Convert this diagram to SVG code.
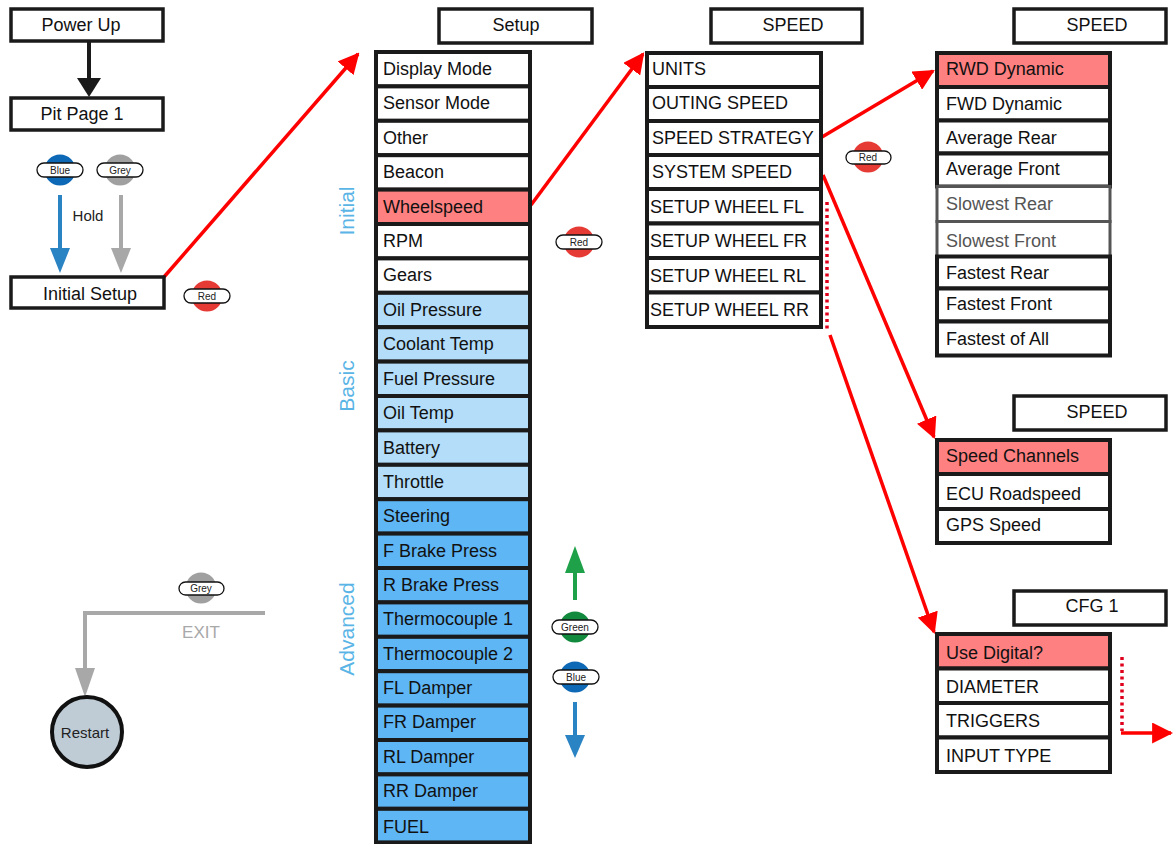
<svg xmlns="http://www.w3.org/2000/svg" width="1173" height="844" viewBox="0 0 1173 844">
<defs>
<marker id="ah-red" viewBox="0 0 10 10" refX="9" refY="5" markerWidth="6" markerHeight="6" markerUnits="strokeWidth" orient="auto"><path d="M0,0 L10,5 L0,10 z" fill="#ff0000"/></marker>
</defs>
<style>
text{font-family:"Liberation Sans",Arial,sans-serif;}
.box{fill:#fff;stroke:#1a1a1a;stroke-width:3.5;}
.row{stroke:#1a1a1a;stroke-width:4;}
.w{fill:#fff}.r{fill:#ff8080}.lb{fill:#b3ddf9}.mb{fill:#5fb6f5}
.t{font-size:18px;fill:#111;}
.tc{font-size:18px;fill:#111;text-anchor:middle;}
.side{font-size:21px;fill:#5ab5e6;text-anchor:middle;}
.pill{fill:#fff;stroke:#111;stroke-width:1.3;}
.pt{font-size:10px;fill:#222;text-anchor:middle;}
.red{stroke:#ff0000;stroke-width:3.5;fill:none;}
.dot{stroke:#e0001b;stroke-width:3.5;fill:none;stroke-dasharray:3,3.5;}
</style>

<g id="connectors">
<line x1="89" y1="41" x2="89" y2="80" stroke="#1a1a1a" stroke-width="4"/>
<path d="M77,78 L101,78 L89,97 z" fill="#1a1a1a"/>
<line x1="60" y1="195" x2="60" y2="250" stroke="#2a84c4" stroke-width="4"/>
<path d="M50,248 L70,248 L60,273 z" fill="#2a84c4"/>
<line x1="121" y1="195" x2="121" y2="250" stroke="#a8a8a8" stroke-width="4"/>
<path d="M111,248 L131,248 L121,273 z" fill="#a8a8a8"/>
<path d="M265,613 L85,613 L85,670" stroke="#a8a8a8" stroke-width="4" fill="none"/>
<path d="M75,668 L95,668 L85,697 z" fill="#a8a8a8"/>
<line x1="575" y1="600" x2="575" y2="570" stroke="#1fa14a" stroke-width="4"/>
<path d="M565,573 L585,573 L575,546 z" fill="#1fa14a"/>
<line x1="575" y1="702" x2="575" y2="737" stroke="#2a84c4" stroke-width="4"/>
<path d="M565,735 L585,735 L575,758 z" fill="#2a84c4"/>
<line class="red" x1="164" y1="277" x2="358" y2="54" marker-end="url(#ah-red)"/>
<line class="red" x1="531" y1="205" x2="643" y2="54" marker-end="url(#ah-red)"/>
<line class="red" x1="822" y1="137" x2="933" y2="71" marker-end="url(#ah-red)"/>
<line class="red" x1="823" y1="175" x2="934" y2="437" marker-end="url(#ah-red)"/>
<line class="dot" x1="827" y1="202" x2="827" y2="330"/>
<line class="red" x1="830" y1="335" x2="934" y2="632" marker-end="url(#ah-red)"/>
<line class="dot" x1="1122" y1="657" x2="1122" y2="731"/>
<line class="red" x1="1121" y1="733" x2="1171" y2="733" marker-end="url(#ah-red)"/>
</g>

<g id="power-up"><rect class="box" x="11" y="9" width="152" height="32"/><text class="tc" x="81" y="31">Power Up</text></g>
<g id="pit-page-1"><rect class="box" x="11" y="98" width="152" height="32"/><text class="tc" x="82" y="120">Pit Page 1</text></g>
<g id="initial-setup"><rect class="box" x="11" y="277" width="153" height="31"/><text class="tc" x="90" y="300">Initial Setup</text></g>
<text x="88" y="221" style="font-size:15px;fill:#222;text-anchor:middle">Hold</text>

<g id="btn-blue-1"><circle cx="60" cy="170" r="15.5" fill="#0d68b5"/><rect class="pill" x="37" y="163" width="46" height="14" rx="7"/><text class="pt" x="60" y="174">Blue</text></g>
<g id="btn-grey-1"><circle cx="120" cy="170" r="15.5" fill="#a0a0a0"/><rect class="pill" x="97" y="163" width="46" height="14" rx="7"/><text class="pt" x="120" y="174">Grey</text></g>
<g id="btn-red-1"><circle cx="207" cy="296" r="15.5" fill="#e63a35"/><rect class="pill" x="184" y="289" width="46" height="14" rx="7"/><text class="pt" x="207" y="300">Red</text></g>
<g id="btn-grey-2"><circle cx="201" cy="588" r="15.5" fill="#a0a0a0"/><rect class="pill" x="179" y="582" width="45" height="13" rx="6.5"/><text class="pt" x="201" y="592">Grey</text></g>
<text x="201" y="638" style="font-size:17px;fill:#a8a8a8;text-anchor:middle">EXIT</text>
<g id="restart"><circle cx="87" cy="732" r="35" fill="#bfccd6" stroke="#111" stroke-width="4"/><text x="85" y="738" style="font-size:15px;fill:#222;text-anchor:middle">Restart</text></g>

<g id="btn-red-2"><circle cx="579" cy="242" r="15.5" fill="#e63a35"/><rect class="pill" x="556" y="235" width="46" height="14" rx="7"/><text class="pt" x="579" y="246">Red</text></g>
<g id="btn-green"><circle cx="575" cy="627" r="15.5" fill="#118a3d"/><rect class="pill" x="552" y="620" width="46" height="14" rx="7"/><text class="pt" x="575" y="631">Green</text></g>
<g id="btn-blue-2"><circle cx="575" cy="677" r="15.5" fill="#0d68b5"/><rect class="pill" x="553" y="670" width="46" height="14" rx="7"/><text class="pt" x="576" y="681">Blue</text></g>
<g id="btn-red-3"><circle cx="868" cy="157" r="15.5" fill="#e63a35"/><rect class="pill" x="846" y="151" width="45" height="13" rx="6.5"/><text class="pt" x="868" y="161">Red</text></g>

<text class="side" transform="translate(354,211) rotate(-90)">Initial</text>
<text class="side" transform="translate(354,386) rotate(-90)">Basic</text>
<text class="side" transform="translate(354,629) rotate(-90)">Advanced</text>

<g id="setup-title"><rect class="box" x="439" y="9" width="153" height="34"/><text class="tc" x="516" y="31">Setup</text></g>
<g id="setup-list">
<rect class="row w" x="376" y="52" width="154" height="34.4"/><text class="t" x="383" y="75">Display Mode</text>
<rect class="row w" x="376" y="86.4" width="154" height="34.4"/><text class="t" x="383" y="109">Sensor Mode</text>
<rect class="row w" x="376" y="120.8" width="154" height="34.4"/><text class="t" x="383" y="144">Other</text>
<rect class="row w" x="376" y="155.2" width="154" height="34.4"/><text class="t" x="383" y="178">Beacon</text>
<rect class="row r" x="376" y="189.6" width="154" height="34.4"/><text class="t" x="383" y="213">Wheelspeed</text>
<rect class="row w" x="376" y="224" width="154" height="34.4"/><text class="t" x="383" y="247">RPM</text>
<rect class="row w" x="376" y="258.4" width="154" height="34.4"/><text class="t" x="383" y="281">Gears</text>
<rect class="row lb" x="376" y="292.8" width="154" height="34.4"/><text class="t" x="383" y="316">Oil Pressure</text>
<rect class="row lb" x="376" y="327.2" width="154" height="34.4"/><text class="t" x="383" y="350">Coolant Temp</text>
<rect class="row lb" x="376" y="361.6" width="154" height="34.4"/><text class="t" x="383" y="385">Fuel Pressure</text>
<rect class="row lb" x="376" y="396" width="154" height="34.4"/><text class="t" x="383" y="419">Oil Temp</text>
<rect class="row lb" x="376" y="430.4" width="154" height="34.4"/><text class="t" x="383" y="454">Battery</text>
<rect class="row lb" x="376" y="464.8" width="154" height="34.4"/><text class="t" x="383" y="488">Throttle</text>
<rect class="row mb" x="376" y="499.2" width="154" height="34.4"/><text class="t" x="383" y="522">Steering</text>
<rect class="row mb" x="376" y="533.6" width="154" height="34.4"/><text class="t" x="383" y="557">F Brake Press</text>
<rect class="row mb" x="376" y="568" width="154" height="34.4"/><text class="t" x="383" y="591">R Brake Press</text>
<rect class="row mb" x="376" y="602.4" width="154" height="34.4"/><text class="t" x="383" y="625">Thermocouple 1</text>
<rect class="row mb" x="376" y="636.8" width="154" height="34.4"/><text class="t" x="383" y="660">Thermocouple 2</text>
<rect class="row mb" x="376" y="671.2" width="154" height="34.4"/><text class="t" x="383" y="694">FL Damper</text>
<rect class="row mb" x="376" y="705.6" width="154" height="34.4"/><text class="t" x="383" y="728">FR Damper</text>
<rect class="row mb" x="376" y="740" width="154" height="34.4"/><text class="t" x="383" y="763">RL Damper</text>
<rect class="row mb" x="376" y="774.4" width="154" height="34.4"/><text class="t" x="383" y="797">RR Damper</text>
<rect class="row mb" x="376" y="808.8" width="154" height="33.6"/><text class="t" x="383" y="833">FUEL</text>
</g>

<g id="speed-title-1"><rect class="box" x="711" y="9" width="151" height="34"/><text class="tc" x="793" y="31">SPEED</text></g>
<g id="speed-list-1">
<rect class="row w" x="647" y="53" width="174" height="34"/><text class="t" x="652" y="75">UNITS</text>
<rect class="row w" x="647" y="87" width="174" height="34"/><text class="t" x="652" y="109">OUTING SPEED</text>
<rect class="row w" x="647" y="121" width="174" height="34"/><text class="t" x="652" y="144">SPEED STRATEGY</text>
<rect class="row w" x="647" y="155" width="174" height="34"/><text class="t" x="652" y="178">SYSTEM SPEED</text>
<rect class="row w" x="647" y="189" width="174" height="34.5"/><text class="t" x="650" y="213">SETUP WHEEL FL</text>
<rect class="row w" x="647" y="223.5" width="174" height="34.5"/><text class="t" x="650" y="247">SETUP WHEEL FR</text>
<rect class="row w" x="647" y="258" width="174" height="34.5"/><text class="t" x="650" y="282">SETUP WHEEL RL</text>
<rect class="row w" x="647" y="292.5" width="174" height="34.5"/><text class="t" x="650" y="316">SETUP WHEEL RR</text>
</g>

<g id="speed-title-2"><rect class="box" x="1014" y="9" width="152" height="34"/><text class="tc" x="1097" y="31">SPEED</text></g>
<g id="speed-list-2">
<rect class="row r" x="937" y="53" width="173" height="34"/><text class="t" x="946" y="75">RWD Dynamic</text>
<rect class="row w" x="937" y="87" width="173" height="33.5"/><text class="t" x="946" y="110">FWD Dynamic</text>
<rect class="row w" x="937" y="120.5" width="173" height="33"/><text class="t" x="946" y="144">Average Rear</text>
<rect class="row w" x="937" y="153.5" width="173" height="33"/><text class="t" x="946" y="175">Average Front</text>
<rect x="937" y="186.5" width="173" height="35" fill="#fff" stroke="#555" stroke-width="3"/><text class="t" x="946" y="210" style="fill:#555">Slowest Rear</text>
<rect x="937" y="221.5" width="173" height="35" fill="#fff" stroke="#555" stroke-width="3"/><text class="t" x="946" y="247" style="fill:#555">Slowest Front</text>
<rect class="row w" x="937" y="256.5" width="173" height="32"/><text class="t" x="946" y="279">Fastest Rear</text>
<rect class="row w" x="937" y="288.5" width="173" height="33"/><text class="t" x="946" y="310">Fastest Front</text>
<rect class="row w" x="937" y="321.5" width="173" height="34"/><text class="t" x="946" y="345">Fastest of All</text>
</g>

<g id="speed-title-3"><rect class="box" x="1014" y="396" width="152" height="34"/><text class="tc" x="1097" y="418">SPEED</text></g>
<g id="speed-list-3">
<rect class="row r" x="937" y="440" width="173" height="34"/><text class="t" x="946" y="462">Speed Channels</text>
<rect class="row w" x="937" y="474" width="173" height="35"/><text class="t" x="946" y="500">ECU Roadspeed</text>
<rect class="row w" x="937" y="509" width="173" height="34"/><text class="t" x="946" y="531">GPS Speed</text>
</g>

<g id="cfg-title"><rect class="box" x="1014" y="591" width="152" height="34"/><text class="tc" x="1092" y="612">CFG 1</text></g>
<g id="cfg-list">
<rect class="row r" x="937" y="634" width="173" height="34.5"/><text class="t" x="946" y="659">Use Digital?</text>
<rect class="row w" x="937" y="668.5" width="173" height="34.5"/><text class="t" x="946" y="693">DIAMETER</text>
<rect class="row w" x="937" y="703" width="173" height="34.5"/><text class="t" x="946" y="727">TRIGGERS</text>
<rect class="row w" x="937" y="737.5" width="173" height="34.5"/><text class="t" x="946" y="762">INPUT TYPE</text>
</g>
</svg>
